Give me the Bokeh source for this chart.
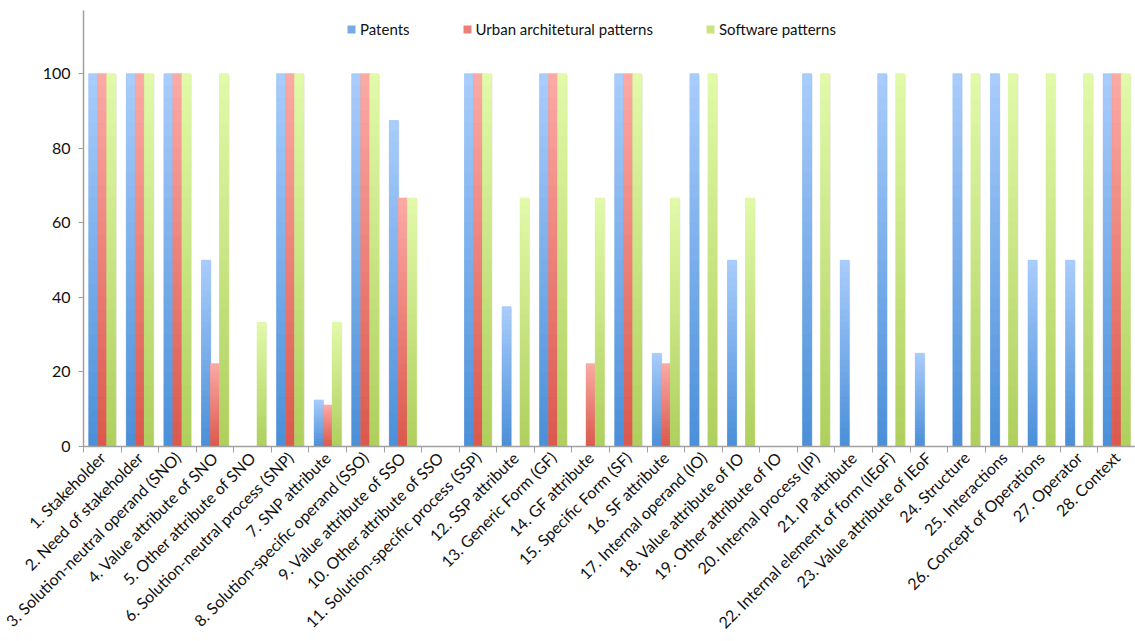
import math
from bokeh.plotting import figure
from bokeh.models import ColumnDataSource, FixedTicker, Range1d, Legend, LegendItem
from bokeh.embed import file_html
from bokeh.resources import INLINE

categories = [
    "1. Stakeholder", "2. Need of stakeholder", "3. Solution-neutral operand (SNO)",
    "4. Value attribute of SNO", "5. Other attribute of SNO", "6. Solution-neutral process (SNP)",
    "7. SNP attribute", "8. Solution-specific operand (SSO)", "9. Value attribute of SSO",
    "10. Other attribute of SSO", "11. Solution-specific process (SSP)", "12. SSP attribute",
    "13. Generic Form (GF)", "14. GF attribute", "15. Specific Form (SF)", "16. SF attribute",
    "17. Internal operand (IO)", "18. Value attribute of IO", "19. Other attribute of IO",
    "20. Internal process (IP)", "21. IP attribute", "22. Internal element of form (IEoF)",
    "23. Value attribute of IEoF", "24. Structure", "25. Interactions",
    "26. Concept of Operations", "27. Operator", "28. Context",
]
patents = [100, 100, 100, 50, 0, 100, 12.5, 100, 87.5, 0, 100, 37.5, 100, 0,
           100, 25, 100, 50, 0, 100, 50, 100, 25, 100, 100, 50, 50, 100]
urban = [100, 100, 100, 22.2, 0, 100, 11.1, 100, 66.7, 0, 100, 0, 100, 22.2,
         100, 22.2, 0, 0, 0, 0, 0, 0, 0, 0, 0, 0, 0, 100]
software = [100, 100, 100, 100, 33.3, 100, 33.3, 100, 66.7, 0, 100, 66.7, 100, 66.7,
            100, 66.7, 100, 66.7, 0, 100, 0, 100, 0, 100, 100, 100, 100, 100]
series_names = ["Patents", "Urban architetural patterns", "Software patterns"]

FONT = "Lato"
n = len(categories)
centers = [i + 0.5 for i in range(n)]
bounds = [float(i) for i in range(n + 1)]

p = figure(width=1135, height=641, output_backend="svg", toolbar_location=None,
           x_range=Range1d(0, n), y_range=Range1d(0, 117),
           min_border_left=83, min_border_right=0, min_border_top=10, min_border_bottom=194)
p.outline_line_color = None
p.xgrid.visible = False
p.ygrid.visible = False
p.background_fill_color = "white"
p.border_fill_color = "white"

bw = 0.24
offsets = [-bw, 0.0, bw]
# (top colour, bottom colour, mid colour)
grads = [
    ((0xaa, 0xcd, 0xfc), (0x4a, 0x8f, 0xd8), "#79aae6"),
    ((0xfc, 0xaa, 0xa5), (0xda, 0x58, 0x4d), "#ec7f77"),
    ((0xe2, 0xfa, 0xaa), (0xae, 0xcf, 0x5c), "#c9e57f"),
]

def hexc(c):
    return "#%02x%02x%02x" % tuple(int(round(v)) for v in c)

NSEG = 30
legend_items = []
for s, (vals, off, (top_c, bot_c, mid)) in enumerate(zip([patents, urban, software], offsets, grads)):
    xs = [c + off for c in centers]
    src = ColumnDataSource(dict(x=xs, top=vals))
    # soft shadow
    p.vbar(x=[x + 0.03 for x in xs], top=[max(v - 0.3, 0) for v in vals], width=bw, fill_color="#000000",
           fill_alpha=0.07, line_color=None)
    base = p.vbar(x="x", top="top", width=bw, source=src, fill_color=mid, line_color=None)
    legend_items.append(LegendItem(label=series_names[s], renderers=[base]))
    xx, b0, t0, cols = [], [], [], []
    for k in range(NSEG):
        f = (k + 0.5) / NSEG
        col = hexc([bot_c[j] + (top_c[j] - bot_c[j]) * f for j in range(3)])
        for x, v in zip(xs, vals):
            if v <= 0:
                continue
            xx.append(x)
            b0.append(v * k / NSEG)
            t0.append(v * (k + 1) / NSEG)
            cols.append(col)
    gsrc = ColumnDataSource(dict(x=xx, bottom=b0, top=t0, c=cols))
    p.vbar(x="x", bottom="bottom", top="top", width=bw, source=gsrc, fill_color="c", line_color="c",
           line_width=0.6)

# axes
xa = p.xaxis[0]
xa.ticker = FixedTicker(ticks=centers, minor_ticks=bounds)
xa.major_label_overrides = {c: lab for c, lab in zip(centers, categories)}
xa.major_label_orientation = math.pi / 4
xa.major_tick_line_color = None
xa.major_tick_out = 0
xa.major_tick_in = 0
xa.minor_tick_line_color = "#a0a0a0"
xa.minor_tick_out = 6
xa.minor_tick_in = 0
xa.axis_line_color = "#a0a0a0"
xa.axis_line_width = 1.5
xa.major_label_text_font = FONT
xa.major_label_text_font_size = "16px"
xa.major_label_text_color = "#111111"
xa.major_label_standoff = 2

ya = p.yaxis[0]
ya.ticker = FixedTicker(ticks=[0, 20, 40, 60, 80, 100])
ya.minor_tick_line_color = None
ya.major_tick_line_color = "#a0a0a0"
ya.major_tick_out = 5
ya.major_tick_in = 0
ya.axis_line_color = "#a0a0a0"
ya.axis_line_width = 1.5
ya.major_label_text_font = FONT
ya.major_label_text_font_size = "16px"
ya.major_label_text_color = "#111111"
ya.major_label_standoff = 8

legend = Legend(items=legend_items, orientation="horizontal", location=(263, 408),
                glyph_width=10, glyph_height=10, label_standoff=4, spacing=52,
                padding=0, margin=0, border_line_color=None, background_fill_alpha=0,
                label_text_font=FONT, label_text_font_size="15px", label_text_color="#111111")
p.add_layout(legend)

open("out.html", "w").write(file_html(p, INLINE))
